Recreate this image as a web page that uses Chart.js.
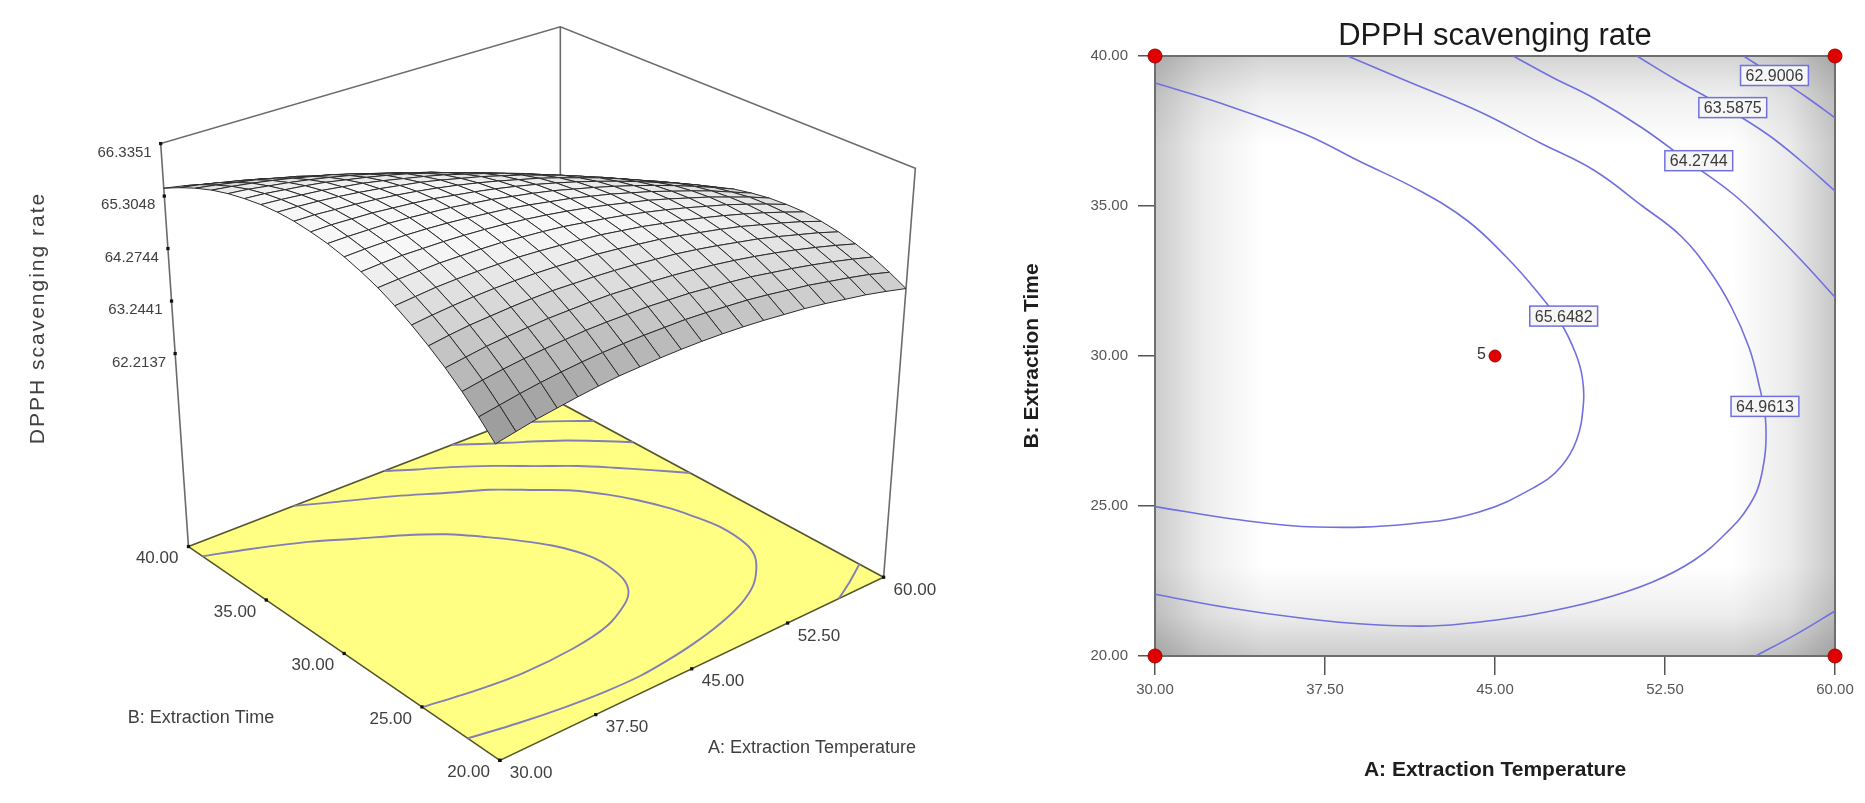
<!DOCTYPE html>
<html>
<head>
<meta charset="utf-8">
<title>DPPH scavenging rate</title>
<script src="https://cdn.jsdelivr.net/npm/chart.js@4.4.1/dist/chart.umd.min.js"></script>
<style>
  body { margin: 0; background: #fff; }
  canvas { position: absolute; top: 0; }
  #surface { left: 0; }
  #contour { left: 960px; }
</style>
</head>
<body>
<canvas id="surface" width="960" height="803"></canvas>
<canvas id="contour" width="905" height="803"></canvas>
<script>
// ---------- data ----------
const tempLevels = [30, 31.5, 33, 34.5, 36, 37.5, 39, 40.5, 42, 43.5, 45, 46.5, 48, 49.5, 51, 52.5, 54, 55.5, 57, 58.5, 60];
const timeLevels = [20, 21, 22, 23, 24, 25, 26, 27, 28, 29, 30, 31, 32, 33, 34, 35, 36, 37, 38, 39, 40];
// DPPH scavenging rate on the grid, one row per extraction time (20 -> 40)
const rateGrid = [
  [64.32,64.39,64.46,64.51,64.56,64.60,64.63,64.64,64.65,64.65,64.64,64.62,64.59,64.55,64.50,64.45,64.38,64.30,64.22,64.12,64.01],
  [64.64,64.70,64.76,64.81,64.85,64.88,64.90,64.91,64.91,64.90,64.89,64.86,64.82,64.78,64.72,64.65,64.58,64.49,64.40,64.30,64.18],
  [64.93,64.99,65.04,65.08,65.11,65.13,65.15,65.15,65.14,65.13,65.10,65.07,65.02,64.97,64.91,64.83,64.75,64.66,64.56,64.45,64.33],
  [65.19,65.24,65.29,65.32,65.34,65.36,65.36,65.36,65.35,65.32,65.29,65.25,65.20,65.14,65.07,64.99,64.90,64.80,64.69,64.57,64.44],
  [65.42,65.47,65.51,65.53,65.55,65.56,65.56,65.54,65.52,65.49,65.45,65.40,65.35,65.28,65.20,65.11,65.02,64.91,64.79,64.67,64.53],
  [65.63,65.67,65.70,65.72,65.73,65.73,65.72,65.70,65.67,65.64,65.59,65.53,65.47,65.39,65.30,65.21,65.11,64.99,64.87,64.74,64.59],
  [65.81,65.84,65.87,65.88,65.88,65.87,65.86,65.83,65.79,65.75,65.70,65.63,65.56,65.47,65.38,65.28,65.17,65.05,64.92,64.78,64.63],
  [65.97,65.99,66.00,66.01,66.00,65.99,65.97,65.93,65.89,65.84,65.77,65.70,65.62,65.53,65.43,65.32,65.20,65.08,64.94,64.79,64.63],
  [66.09,66.11,66.12,66.11,66.10,66.08,66.05,66.01,65.96,65.90,65.83,65.75,65.66,65.56,65.46,65.34,65.21,65.08,64.93,64.78,64.61],
  [66.19,66.20,66.20,66.19,66.17,66.14,66.10,66.05,66.00,65.93,65.85,65.77,65.67,65.57,65.45,65.33,65.19,65.05,64.90,64.73,64.56],
  [66.26,66.26,66.25,66.24,66.21,66.17,66.13,66.07,66.01,65.93,65.85,65.76,65.65,65.54,65.42,65.29,65.15,65.00,64.84,64.67,64.49],
  [66.30,66.30,66.28,66.26,66.22,66.18,66.13,66.06,65.99,65.91,65.82,65.72,65.61,65.49,65.36,65.22,65.07,64.91,64.75,64.57,64.38],
  [66.32,66.31,66.28,66.25,66.21,66.16,66.10,66.03,65.95,65.86,65.76,65.65,65.54,65.41,65.27,65.13,64.97,64.80,64.63,64.45,64.25],
  [66.31,66.29,66.26,66.22,66.17,66.11,66.04,65.97,65.88,65.78,65.68,65.56,65.44,65.30,65.16,65.00,64.84,64.67,64.49,64.29,64.09],
  [66.27,66.24,66.20,66.16,66.10,66.04,65.96,65.87,65.78,65.68,65.56,65.44,65.31,65.17,65.01,64.85,64.68,64.50,64.31,64.12,63.91],
  [66.20,66.17,66.12,66.07,66.01,65.93,65.85,65.76,65.66,65.54,65.42,65.29,65.15,65.00,64.85,64.68,64.50,64.31,64.12,63.91,63.69],
  [66.11,66.07,66.01,65.95,65.88,65.80,65.71,65.61,65.50,65.38,65.26,65.12,64.97,64.81,64.65,64.47,64.29,64.09,63.89,63.68,63.45],
  [65.99,65.94,65.88,65.81,65.73,65.64,65.55,65.44,65.32,65.20,65.06,64.92,64.76,64.60,64.42,64.24,64.05,63.85,63.64,63.41,63.18],
  [65.84,65.78,65.71,65.64,65.55,65.46,65.35,65.24,65.11,64.98,64.84,64.69,64.52,64.35,64.17,63.98,63.78,63.57,63.35,63.13,62.89],
  [65.66,65.60,65.52,65.44,65.35,65.24,65.13,65.01,64.88,64.74,64.59,64.43,64.26,64.08,63.89,63.70,63.49,63.27,63.05,62.81,62.56],
  [65.46,65.39,65.30,65.21,65.11,65.00,64.88,64.75,64.62,64.47,64.31,64.14,63.97,63.78,63.59,63.38,63.17,62.94,62.71,62.47,62.21]
];

const zTicks = [62.2137, 63.2441, 64.2744, 65.3048, 66.3351];
const tempTicks = [30, 37.5, 45, 52.5, 60];
const timeTicks = [20, 25, 30, 35, 40];

// contour lines [A, B]
const line656482 = [[30,39.1],[33,38.4],[36.6,37.4],[39,36.5],[41.7,35.5],[43.8,34.5],[45.5,33.3],[46.8,32.2],
  [47.9,31.1],[48.55,30.1],[48.85,29.3],[48.9,28.4],[48.6,27.2],[47.9,26.3],[46.8,25.65],[44.3,24.8],
  [41.2,24.4],[37.1,24.3],[33.6,24.55],[30,24.98]];
const line649613 = [[38.5,40],[41,39.2],[44.3,38.15],[47,37.1],[49.35,36.2],[51.5,35.0],[53.2,34.0],[54.5,32.8],
  [55.45,31.6],[56.2,30.3],[56.6,29.2],[56.95,27.7],[56.75,26.0],[56.2,25.0],[55.2,24.1],[53.8,23.2],
  [51.9,22.45],[49.5,21.85],[46.8,21.4],[44.5,21.15],[42.2,21.0],[39.5,21.05],[36.6,21.25],[33.3,21.6],[30,22.06]];
const line642744 = [[45.8,40],[47.5,39.3],[49.35,38.6],[51.5,37.6],[53.5,36.5],[55.5,35.4],[57,34.35],[58.5,33.2],[60,31.96]];
const line642744low = [[56.5,20],[58.3,20.73],[60,21.5]];
const line635875 = [[51.26,40],[53,39.2],[55,38.35],[57,37.4],[58.5,36.5],[60,35.5]];
const line629006 = [[55.97,40],[57.3,39.35],[58.7,38.65],[60,37.94]];

const contourLevels = [62.9006, 63.5875, 64.2744, 64.9613, 65.6482];
const labelTemp = [57.33, 55.49, 53.99, 56.91, 48.03];
const labelTime = [39.35, 38.28, 36.51, 28.32, 31.33];

const designTemp = [30, 30, 60, 60, 45];
const designTime = [20, 40, 20, 40, 30];
const centerRuns = 5;

// ---------- 3D view of the box (screen corners of floor and lid) ----------
const FONT = '"Liberation Sans", Arial, Helvetica, sans-serif';
const box = {
  floor: { L: [186, 548], F: [500, 764], R: [887, 579], B: [561, 403] },
  top:   { L: [158, 141], F: [494, 335], R: [919, 166], B: [561, 23] },
  zMin: 58.425, zMax: 66.3351
};
const aLo = tempTicks[0], aHi = tempTicks[tempTicks.length - 1];
const bLo = timeTicks[0], bHi = timeTicks[timeTicks.length - 1];

function mix(q, s, t) {
  const w = [(1 - s) * (1 - t), s * (1 - t), s * t, (1 - s) * t];
  const c = [q.F, q.R, q.B, q.L];
  return [0, 1].map(k => c[0][k] * w[0] + c[1][k] * w[1] + c[2][k] * w[2] + c[3][k] * w[3]);
}
function project(a, b, z) {
  const s = (a - aLo) / (aHi - aLo), t = (b - bLo) / (bHi - bLo);
  const f = mix(box.floor, s, t), p = mix(box.top, s, t);
  const h = (z - box.zMin) / (box.zMax - box.zMin);
  return { x: f[0] + (p[0] - f[0]) * h, y: f[1] + (p[1] - f[1]) * h };
}

function shade(i, j) {
  const z00 = rateGrid[j][i], z10 = rateGrid[j][i + 1], z01 = rateGrid[j + 1][i], z11 = rateGrid[j + 1][i + 1];
  const k = 0.6 / (box.zMax - box.zMin) * (tempLevels.length - 1);
  const gu = ((z10 + z11) - (z00 + z01)) / 2 * k;
  const gv = ((z01 + z11) - (z00 + z10)) / 2 * k;
  const nz = 1 / Math.sqrt(1 + gu * gu + gv * gv);
  const g = Math.round(Math.max(115, Math.min(247, 258 * Math.pow(nz, 4.6))));
  return 'rgb(' + g + ',' + g + ',' + g + ')';
}

const layers = [];
const fz = box.zMin;
layers.push({
  data: [project(aLo, bHi, fz), project(aLo, bLo, fz), project(aHi, bLo, fz), project(aHi, bHi, fz), project(aLo, bHi, fz)],
  fill: 'shape', backgroundColor: '#ffff84', borderColor: '#55552e', borderWidth: 1.6
});
[line656482, line649613, line642744, line642744low, line635875, line629006].forEach(pts => {
  layers.push({
    data: pts.map(p => project(p[0], p[1], fz)),
    fill: false, borderColor: '#817fb6', borderWidth: 1.9, tension: 0.3
  });
});
layers.push({
  data: [project(aLo, bHi, fz), project(aLo, bHi, box.zMax), project(aHi, bHi, box.zMax),
         project(aHi, bLo, box.zMax), project(aHi, bLo, fz)],
  fill: false, borderColor: '#6b6b6b', borderWidth: 1.6
});
layers.push({
  data: [project(aHi, bHi, box.zMax), project(aHi, bHi, fz)],
  fill: false, borderColor: '#6b6b6b', borderWidth: 1.6
});
layers.push({
  data: timeTicks.map(b => project(aLo, b, fz))
    .concat(tempTicks.map(a => project(a, bLo, fz)))
    .concat(zTicks.map(z => project(aLo, bHi, z))),
  showLine: false, pointRadius: 2.3, pointStyle: 'rect', pointBackgroundColor: '#111', pointBorderWidth: 0
});

// surface cells, far corner first
const cells = [];
for (let j = 0; j < timeLevels.length - 1; j++) {
  for (let i = 0; i < tempLevels.length - 1; i++) cells.push([i, j]);
}
cells.sort((p, q) => (q[0] + q[1]) - (p[0] + p[1]));
cells.forEach(([i, j]) => {
  const c = (ii, jj) => project(tempLevels[ii], timeLevels[jj], rateGrid[jj][ii]);
  layers.push({
    data: [c(i, j), c(i + 1, j), c(i + 1, j + 1), c(i, j + 1), c(i, j)],
    fill: 'shape', backgroundColor: shade(i, j), borderColor: '#2b2b2b', borderWidth: 1, tension: 0
  });
});
layers.forEach((d, n) => { d.order = layers.length - n; });

const surfaceText = {
  id: 'surfaceText',
  afterDraw(chart) {
    const { ctx, scales: { x, y } } = chart;
    const px = p => [x.getPixelForValue(p.x), y.getPixelForValue(p.y)];
    ctx.save();
    ctx.fillStyle = '#404040';
    ctx.textBaseline = 'middle';
    ctx.textAlign = 'right';
    ctx.font = '15px ' + FONT;
    zTicks.forEach(v => {
      const [X, Y] = px(project(aLo, bHi, v));
      ctx.fillText(v.toFixed(4), X - 9, Y + 9);
    });
    ctx.font = '17px ' + FONT;
    timeTicks.forEach(v => {
      const [X, Y] = px(project(aLo, v, fz));
      ctx.fillText(v.toFixed(2), X - 10, Y + 12);
    });
    ctx.textAlign = 'left';
    tempTicks.forEach(v => {
      const [X, Y] = px(project(v, bLo, fz));
      ctx.fillText(v.toFixed(2), X + 10, Y + 13);
    });
    ctx.font = '18px ' + FONT;
    ctx.textAlign = 'center';
    ctx.fillText('B: Extraction Time', 201, 718);
    ctx.textAlign = 'left';
    ctx.fillText('A: Extraction Temperature', 708, 748);
    ctx.translate(38, 318);
    ctx.rotate(-Math.PI / 2);
    ctx.textAlign = 'center';
    ctx.font = '21px ' + FONT;
    ctx.letterSpacing = '2px';
    ctx.fillText('DPPH scavenging rate', 0, 0);
    ctx.restore();
  }
};

new Chart(document.getElementById('surface'), {
  type: 'line',
  data: { datasets: layers },
  options: {
    responsive: false,
    animation: false,
    events: [],
    layout: { padding: 0 },
    plugins: { legend: { display: false }, tooltip: { enabled: false } },
    elements: { point: { radius: 0 }, line: { tension: 0 } },
    scales: {
      x: { type: 'linear', min: 0, max: 960, display: false },
      y: { type: 'linear', min: 0, max: 803, reverse: true, display: false }
    }
  },
  plugins: [surfaceText]
});

// ---------- contour plot ----------
const contourDecor = {
  id: 'contourDecor',
  beforeDatasetsDraw(chart) {
    const { ctx, chartArea: { left, top, right, bottom } } = chart;
    const w = right - left, h = bottom - top;
    ctx.save();
    const band = (x0, y0, x1, y1, rx, ry, rw, rh, a) => {
      const g = ctx.createLinearGradient(x0, y0, x1, y1);
      g.addColorStop(0, 'rgba(0,0,0,' + a + ')');
      g.addColorStop(0.45, 'rgba(0,0,0,' + (a * 0.35) + ')');
      g.addColorStop(1, 'rgba(0,0,0,0)');
      ctx.fillStyle = g;
      ctx.fillRect(rx, ry, rw, rh);
    };
    band(left, 0, left + 0.16 * w, 0, left, top, 0.16 * w, h, 0.2);
    band(right, 0, right - 0.15 * w, 0, right - 0.15 * w, top, 0.15 * w, h, 0.22);
    band(0, top, 0, top + 0.15 * h, left, top, w, 0.15 * h, 0.17);
    band(0, bottom, 0, bottom - 0.15 * h, left, bottom - 0.15 * h, w, 0.15 * h, 0.2);
    ctx.strokeStyle = '#6e6e6e';
    ctx.lineWidth = 2;
    ctx.strokeRect(left, top, w, h);
    ctx.fillStyle = '#1a1a1a';
    ctx.font = '31px ' + FONT;
    ctx.textAlign = 'center';
    ctx.textBaseline = 'middle';
    ctx.fillText('DPPH scavenging rate', (left + right) / 2, 36);
    ctx.restore();
  },
  afterDatasetsDraw(chart) {
    const { ctx, scales: { x, y } } = chart;
    ctx.save();
    ctx.font = '16px ' + FONT;
    ctx.textAlign = 'center';
    ctx.textBaseline = 'middle';
    contourLevels.forEach((lv, k) => {
      const cx = x.getPixelForValue(labelTemp[k]), cy = y.getPixelForValue(labelTime[k]);
      const txt = lv.toFixed(4);
      const w = ctx.measureText(txt).width + 10, h = 20;
      ctx.fillStyle = '#f6f6f6';
      ctx.fillRect(cx - w / 2, cy - h / 2, w, h);
      ctx.strokeStyle = 'rgb(112,112,222)';
      ctx.lineWidth = 1.5;
      ctx.strokeRect(cx - w / 2, cy - h / 2, w, h);
      ctx.fillStyle = '#3a3a3a';
      ctx.fillText(txt, cx, cy + 1);
    });
    const k = designTemp.length - 1;
    ctx.textAlign = 'right';
    ctx.fillStyle = '#333';
    ctx.fillText(String(centerRuns), x.getPixelForValue(designTemp[k]) - 9, y.getPixelForValue(designTime[k]) - 1);
    ctx.restore();
  }
};

const contourSets = [line656482, line649613, line642744, line642744low, line635875, line629006].map(pts => ({
  data: pts.map(p => ({ x: p[0], y: p[1] })),
  borderColor: 'rgb(112,112,222)', borderWidth: 1.6, tension: 0.4, fill: false
}));
contourSets.push({
  data: designTemp.map((a, n) => ({ x: a, y: designTime[n] })),
  showLine: false, clip: false,
  pointRadius: [7, 7, 7, 7, 6],
  pointBackgroundColor: '#e00000', pointBorderColor: '#a00000', pointBorderWidth: 1
});

const tickFont = { family: FONT, size: 15 };
const titleFont = { family: FONT, size: 21, weight: 'bold' };

new Chart(document.getElementById('contour'), {
  type: 'line',
  data: { datasets: contourSets },
  options: {
    responsive: false,
    animation: false,
    events: [],
    layout: { padding: { left: 0, right: 30, top: 56, bottom: 0 } },
    plugins: { legend: { display: false }, tooltip: { enabled: false } },
    elements: { point: { radius: 0 } },
    scales: {
      x: {
        type: 'linear', min: 30, max: 60,
        afterFit: s => { s.height = 147; },
        ticks: { stepSize: 7.5, callback: v => v.toFixed(2), color: '#555', font: tickFont, padding: 6, maxRotation: 0, autoSkip: false },
        grid: { drawOnChartArea: false, drawTicks: true, tickLength: 19, color: '#555', lineWidth: 1.5 },
        border: { display: false },
        title: { display: true, text: 'A: Extraction Temperature', color: '#1e1e1e', font: titleFont, padding: { top: 0, bottom: 20 } }
      },
      y: {
        type: 'linear', min: 20, max: 40,
        afterFit: s => { s.width = 195; },
        ticks: { stepSize: 5, callback: v => v.toFixed(2), color: '#555', font: tickFont, padding: 10 },
        grid: { drawOnChartArea: false, drawTicks: true, tickLength: 17, color: '#555', lineWidth: 1.5 },
        border: { display: false },
        title: { display: true, text: 'B: Extraction Time', color: '#1e1e1e', font: titleFont, padding: { top: 60, bottom: 0 } }
      }
    }
  },
  plugins: [contourDecor]
});
</script>
</body>
</html>
